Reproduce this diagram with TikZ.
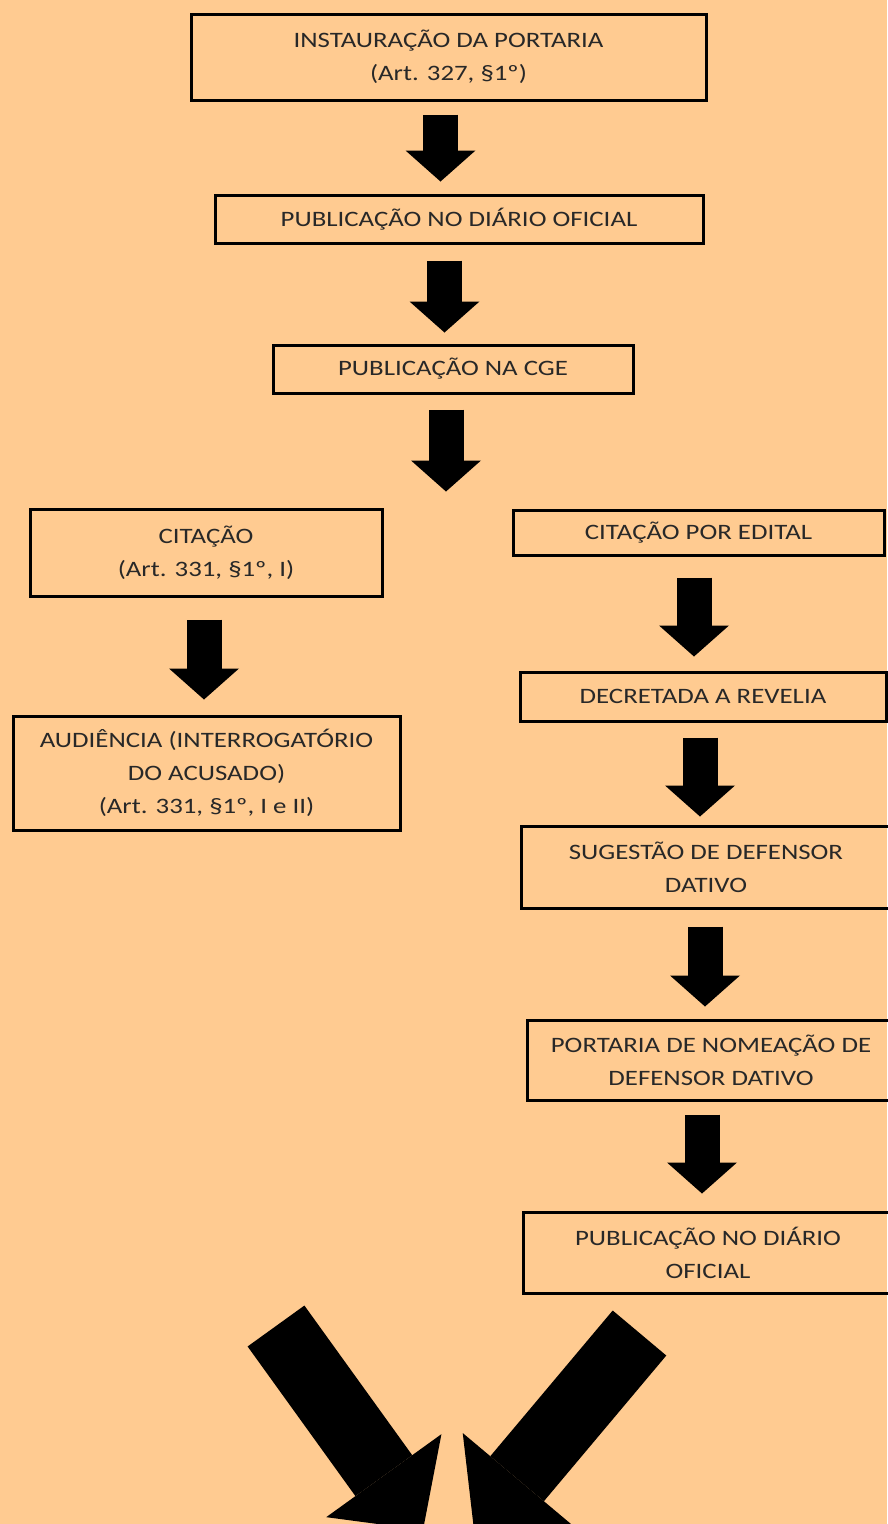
\documentclass[tikz,border=0pt]{standalone}
\usepackage{fontspec}
\setmainfont{Carlito}[FakeStretch=1.22]
\usepackage{xcolor}
\usetikzlibrary{arrows.meta}
\definecolor{pessego}{RGB}{255,203,145}
\definecolor{texto}{RGB}{40,40,40}
\tikzset{
  etapa/.style={draw=black, line width=3pt, text=texto, align=center, inner sep=0pt,
    font=\fontsize{22}{33}\selectfont},
  seta/.style={line width=35pt, -{Triangle[width=70pt,length=31pt,line width=0pt]}},
  setagrande/.style={line width=70pt, -{Triangle[width=142pt,length=67pt,line width=0pt]}},
}

\begin{document}
\begin{tikzpicture}[x=1pt,y=-1pt]
                        \fill[pessego] (0,0) rectangle (887,1524);
                        \useasboundingbox (0,0) rectangle (887,1524);
                        \node[etapa, minimum width=515pt, minimum height=86pt] (inst) at (448.5,57) {INSTAURAÇÃO DA PORTARIA\\(Art. 327, §1º)};
                        \node[etapa, minimum width=488pt, minimum height=48pt] (pubdo) at (459,219) {PUBLICAÇÃO NO DIÁRIO OFICIAL};
                        \node[etapa, minimum width=360pt, minimum height=48pt] (pubcge) at (453,369) {PUBLICAÇÃO NA CGE};
                        \node[etapa, minimum width=352pt, minimum height=87pt] (cit) at (206,552.5) {CITAÇÃO\\(Art. 331, §1º, I)};
                        \node[etapa, minimum width=387pt, minimum height=114pt] (aud) at (206.5,773) {AUDIÊNCIA (INTERROGATÓRIO\\DO ACUSADO)\\(Art. 331, §1º, I e II)};
                        \node[etapa, minimum width=371pt, minimum height=45pt] (edital) at (698.5,532.5) {CITAÇÃO POR EDITAL};
                        \node[etapa, minimum width=366pt, minimum height=49pt] (revelia) at (703,696.5) {DECRETADA A REVELIA};
                        \node[etapa, minimum width=370pt, minimum height=82pt] (sugestao) at (706,867) {SUGESTÃO DE DEFENSOR\\DATIVO};
                        \node[etapa, minimum width=368pt, minimum height=80pt] (nomeacao) at (711,1060) {PORTARIA DE NOMEAÇÃO DE\\DEFENSOR DATIVO};
                        \node[etapa, minimum width=370pt, minimum height=81pt] (pubdodativo) at (708,1252.5) {PUBLICAÇÃO NO DIÁRIO\\OFICIAL};
                        \draw[seta, shorten >=12pt] (inst.south) ++(-8,13) coordinate (s1) -- (s1 |- pubdo.north);
                        \draw[seta, shorten >=11pt] (pubdo.south) ++(-14.5,16) coordinate (s2) -- (s2 |- pubcge.north);
                        \draw[seta] (pubcge.south) ++(-7,15) -- ++(0,82);
                        \draw[seta, shorten >=15pt] (cit.south) ++(-2,22) coordinate (s4) -- (s4 |- aud.north);
                        \draw[seta, shorten >=14pt] (edital.south) ++(-4.5,21) coordinate (s5) -- (s5 |- revelia.north);
                        \draw[seta, shorten >=8pt] (revelia.south) ++(-3,15) coordinate (s6) -- (s6 |- sugestao.north);
                        \draw[seta, shorten >=12pt] (sugestao.south) ++(-1,17) coordinate (s7) -- (s7 |- nomeacao.north);
                        \draw[seta, shorten >=17pt] (nomeacao.south) ++(-9,13) coordinate (s8) -- (s8 |- pubdodativo.north);
                        \draw[setagrande] (276,1326) -- (423,1530);
                        \draw[setagrande] (639.5,1333) -- (474,1530);
                    \end{tikzpicture}
\end{document}
